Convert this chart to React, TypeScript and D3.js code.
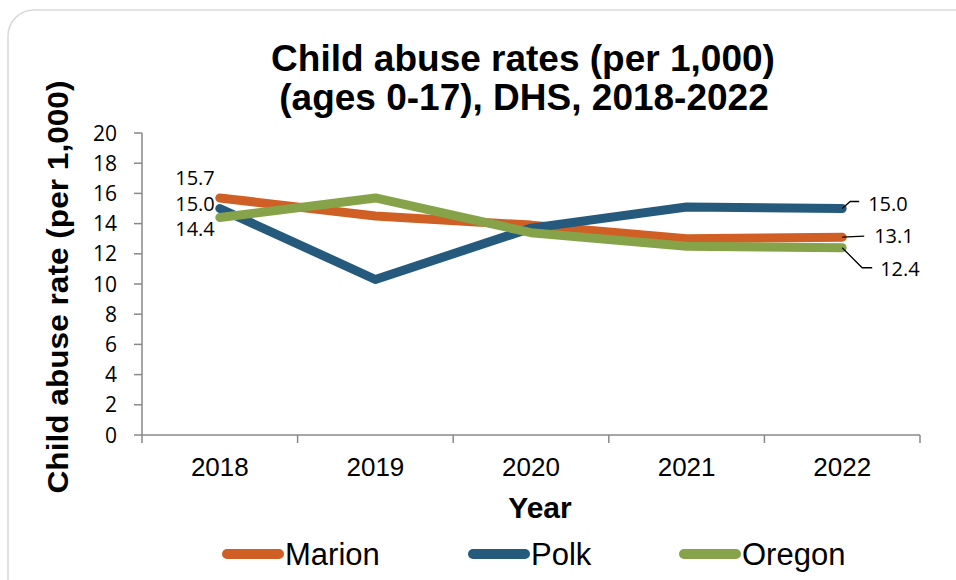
import * as d3 from "d3";

const years = ["2018", "2019", "2020", "2021", "2022"];
const marion = [15.7, 14.5, 13.9, 13.0, 13.1];
const polk = [15.0, 10.3, 13.7, 15.1, 15.0];
const oregon = [14.4, 15.7, 13.4, 12.5, 12.4];
const yTicks = [0, 2, 4, 6, 8, 10, 12, 14, 16, 18, 20];

const seriesList = [
  { name: "Marion", values: marion, color: "#CF5F24" },
  { name: "Polk", values: polk, color: "#255A7D" },
  { name: "Oregon", values: oregon, color: "#86A34A" },
];

const W = 956;
const H = 580;
const plot = { left: 142, right: 920, top: 133, bottom: 435 };
const font = "'Liberation Sans', Arial, sans-serif";
const labelFont = "'Open Sans', 'Liberation Sans', sans-serif";

export default function App() {
  const x = d3.scaleBand().domain(years).range([plot.left, plot.right]);
  const y = d3.scaleLinear().domain([0, 20]).range([plot.bottom, plot.top]);
  const cx = (yr: string) => (x(yr) ?? 0) + x.bandwidth() / 2;

  const line = d3
    .line<number>()
    .x((_, i) => cx(years[i]))
    .y((d) => y(d));

  const first = years[0];
  const last = years[years.length - 1];
  const lx = cx(last);

  // end-of-line labels with leader lines (offsets in px)
  const endLabels = [
    { v: polk[4], pts: [[0, 0], [8, -7], [17, -7]], dx: 26, dy: -5 },
    { v: marion[4], pts: [[0, 0], [22, -1]], dx: 32, dy: -1 },
    { v: oregon[4], pts: [[0, 0], [20, 20], [30, 20]], dx: 38, dy: 21 },
  ];

  return (
    <svg
      width={W}
      height={H}
      style={{ position: "fixed", left: 0, top: 0, background: "#fff" }}
    >
      <rect x={8} y={10} width={980} height={600} rx={26} fill="#fff" stroke="#d9d9d9" strokeWidth={1.5} />

      {/* Title */}
      <text x={523} y={71} textAnchor="middle" fontFamily={font} fontWeight="bold" fontSize={37} fill="#000">
        Child abuse rates (per 1,000)
      </text>
      <text x={524} y={110} textAnchor="middle" fontFamily={font} fontWeight="bold" fontSize={37} fill="#000">
        (ages 0-17), DHS, 2018-2022
      </text>

      {/* Y axis */}
      <line x1={plot.left} x2={plot.left} y1={plot.top} y2={plot.bottom} stroke="#888" strokeWidth={1.5} />
      {yTicks.map((t) => (
        <g key={t}>
          <line x1={plot.left - 8} x2={plot.left} y1={y(t)} y2={y(t)} stroke="#888" strokeWidth={1.5} />
          <text x={117} y={y(t)} dy="0.36em" textAnchor="end" fontFamily={labelFont} fontSize={21} fill="#000">
            {t}
          </text>
        </g>
      ))}

      {/* X axis */}
      <line x1={plot.left} x2={plot.right} y1={plot.bottom} y2={plot.bottom} stroke="#888" strokeWidth={1.5} />
      {years.map((yr) => (
        <g key={yr}>
          <line x1={x(yr)} x2={x(yr)} y1={plot.bottom} y2={plot.bottom + 8} stroke="#888" strokeWidth={1.5} />
          <text x={cx(yr)} y={476} textAnchor="middle" fontFamily={font} fontSize={26} fill="#000">
            {yr}
          </text>
        </g>
      ))}
      <line x1={plot.right} x2={plot.right} y1={plot.bottom} y2={plot.bottom + 8} stroke="#888" strokeWidth={1.5} />

      {/* Axis titles */}
      <text
        transform={`translate(68,287) rotate(-90)`}
        textAnchor="middle"
        fontFamily={font}
        fontWeight="bold"
        fontSize={30}
        textLength={413}
        lengthAdjust="spacingAndGlyphs"
        fill="#000"
      >
        Child abuse rate (per 1,000)
      </text>
      <text x={540} y={518} textAnchor="middle" fontFamily={font} fontWeight="bold" fontSize={30} fill="#000">
        Year
      </text>

      {/* Lines */}
      {seriesList.map((s) => (
        <path
          key={s.name}
          d={line(s.values) ?? ""}
          fill="none"
          stroke={s.color}
          strokeWidth={9}
          strokeLinecap="round"
          strokeLinejoin="round"
        />
      ))}

      {/* 2018 labels */}
      {[marion[0], polk[0], oregon[0]].map((v, i) => (
        <text
          key={i}
          x={cx(first) - 5}
          y={[178, 204, 229][i]}
          dy="0.36em"
          textAnchor="end"
          fontFamily={labelFont}
          fontSize={20}
          fill="#000"
        >
          {v.toFixed(1)}
        </text>
      ))}

      {/* 2022 labels with leaders */}
      {endLabels.map((l, i) => {
        const y0 = y(l.v);
        const pts = l.pts.map(([a, b]) => [lx + a, y0 + b] as [number, number]);
        return (
          <g key={i}>
            <path d={d3.line()(pts) ?? ""} fill="none" stroke="#000" strokeWidth={1.3} />
            <text x={lx + l.dx} y={y0 + l.dy} dy="0.36em" fontFamily={labelFont} fontSize={20} fill="#000">
              {l.v.toFixed(1)}
            </text>
          </g>
        );
      })}

      {/* Legend */}
      {seriesList.map((s, i) => {
        const lx0 = [227, 473, 684][i];
        return (
          <g key={s.name}>
            <line x1={lx0} x2={lx0 + 52} y1={554} y2={554} stroke={s.color} strokeWidth={10} strokeLinecap="round" />
            <text x={lx0 + 58} y={565} fontFamily={font} fontSize={31} fill="#000">
              {s.name}
            </text>
          </g>
        );
      })}
    </svg>
  );
}
